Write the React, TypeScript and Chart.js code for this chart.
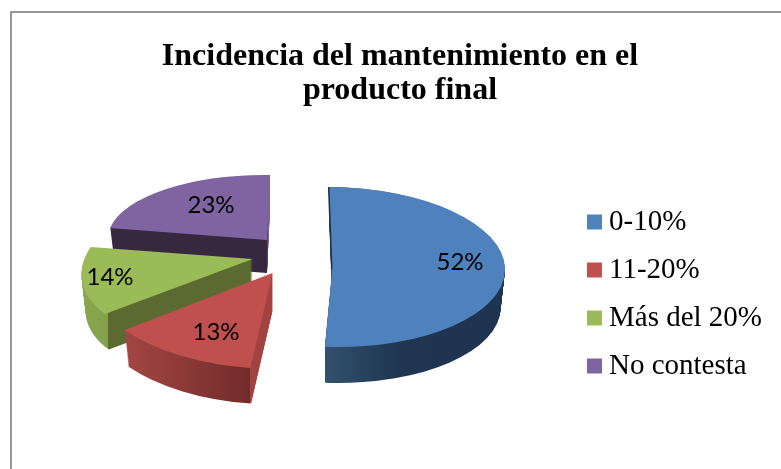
import React, { useEffect, useRef } from "react";
import { Chart, registerables } from "chart.js";

Chart.register(...registerables);

const categories = ["0-10%", "11-20%", "Más del 20%", "No contesta"];
const shareValues = [52, 13, 14, 23];
const sliceColors = ["#4f81bd", "#c0504d", "#9bbb59", "#8064a2"];
const titleLines = ["Incidencia del mantenimiento en el", "producto final"];

// Projection of each flat slice onto the tilted, exploded 3D pie (style only).
const projections = [
  { px: 332.5, py: 267, rx: 172.5, ry: 80, kx: 3, ky: 1, depth: 38, lx: 460, ly: 262,
    side: [[323, "#33526f"], [400, "#1f3550"], [505, "#1f3450"]] },
  { px: 272.5, py: 273, rx: 185.8, ry: 95.6, kx: -10.6, ky: 6.9, depth: 38, lx: 216, ly: 332,
    side: [[124, "#a34643"], [249.5, "#712c2a"], [250.5, "#a34341"], [275, "#a34341"]] },
  { px: 252.7, py: 259, rx: 168.6, ry: 83.6, kx: -30.1, ky: -0.8, depth: 37, lx: 110, ly: 277,
    side: [[78, "#8aa84f"], [107.5, "#84a04b"], [108.5, "#5a6a31"], [255, "#5a6a31"]] },
  { px: 267, py: 240, rx: 159.3, ry: 65, kx: -3, ky: 2.1, depth: 33, lx: 211, ly: 205,
    side: [[105, "#35283f"], [267.4, "#35283f"], [267.6, "#7d6298"], [272, "#7d6298"]] },
];
const drawOrder = [3, 2, 1, 0];

const pie3d = {
  id: "pie3d",
  beforeDraw(chart: any) {
    const { ctx, width, height } = chart;
    ctx.save();
    ctx.fillStyle = "#ffffff";
    ctx.fillRect(0, 0, width, height);
    ctx.fillStyle = "#969696";
    ctx.fillRect(10, 11, width - 10, 2);
    ctx.fillRect(10, 11, 2, height - 11);
    ctx.restore();
  },
  beforeDatasetDraw(chart: any, args: any) {
    const { ctx } = chart;
    const arcs = args.meta.data;

    const place = (arc: any, p: any, dy: number, scale: number, dx = 0) => {
      const R = arc.outerRadius;
      ctx.transform(1, 0, 0, 1, p.px + dx, p.py + dy);
      ctx.transform((p.rx * scale) / R, (p.ky * scale) / R, (p.kx * scale) / R, (p.ry * scale) / R, 0, 0);
      ctx.transform(1, 0, 0, 1, -arc.x, -arc.y);
    };
    const drawWith = (arc: any, fill: any) => {
      const original = arc.options;
      arc.options = Object.create(original, { backgroundColor: { value: fill } });
      arc.draw(ctx);
      arc.options = original;
    };

    drawOrder.forEach((i) => {
      const arc = arcs[i];
      const p: any = projections[i];
      for (let d = p.depth; d >= 1; d -= 1) {
        const scale = 1 - (0.025 * d) / p.depth;
        ctx.save();
        place(arc, p, d, scale);
        const m = ctx.getTransform();
        const inv = m.inverse();
        const x0 = p.side[0][0];
        const x1 = p.side[p.side.length - 1][0];
        const a = inv.transformPoint({ x: x0, y: p.py });
        const f = (x1 - x0) / (m.a * m.a + m.c * m.c);
        const g = ctx.createLinearGradient(a.x, a.y, a.x + m.a * f, a.y + m.c * f);
        p.side.forEach((s: any) => g.addColorStop((s[0] - x0) / (x1 - x0), s[1]));
        drawWith(arc, g);
        ctx.restore();
      }
      if (i === 0) {
        ctx.save();
        ctx.beginPath();
        ctx.rect(0, 0, chart.width, p.py + 2);
        ctx.clip();
        place(arc, p, 0, 1, -1.6);
        drawWith(arc, "#1f3450");
        ctx.restore();
      }
      ctx.save();
      place(arc, p, 0, 1);
      arc.draw(ctx);
      ctx.restore();
    });

    ctx.save();
    ctx.fillStyle = "#000000";
    ctx.font = '24px Lato, "Noto Sans", sans-serif';
    ctx.textAlign = "center";
    ctx.textBaseline = "middle";
    shareValues.forEach((v, i) => {
      ctx.fillText(`${v}%`, projections[i].lx, projections[i].ly);
    });
    ctx.restore();
    return false;
  },
};

export default function App() {
  const ref = useRef<HTMLCanvasElement | null>(null);
  useEffect(() => {
    const chart = new Chart(ref.current as HTMLCanvasElement, {
      type: "pie",
      data: {
        labels: categories,
        datasets: [{ data: shareValues, backgroundColor: sliceColors, borderWidth: 0 }],
      },
      plugins: [pie3d],
      options: {
        responsive: false,
        animation: false,
        layout: { padding: { left: 28, right: 9, top: 40, bottom: 0 } },
        plugins: {
          tooltip: { enabled: false },
          title: {
            display: true,
            text: titleLines,
            color: "#000000",
            font: { family: '"Liberation Serif", serif', size: 32, weight: "bold", lineHeight: 1.0625 },
            padding: { top: 0, bottom: 11 },
          },
          legend: {
            position: "right",
            align: "center",
            fullSize: false,
            labels: {
              color: "#000000",
              font: { family: '"Liberation Serif", serif', size: 29 },
              usePointStyle: true,
              pointStyle: "rect",
              boxWidth: 0.01,
              boxHeight: 15,
              padding: 19,
            },
          },
        },
      },
    } as any);
    return () => chart.destroy();
  }, []);
  return (
    <div style={{ position: "absolute", left: 0, top: 0, width: 781, height: 469 }}>
      <canvas ref={ref} width={781} height={469} style={{ display: "block" }} />
    </div>
  );
}
